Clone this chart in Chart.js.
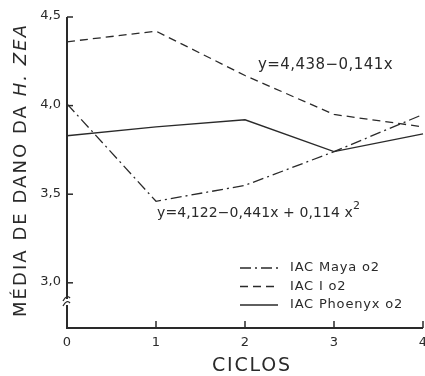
<!DOCTYPE html>
<html>
<head>
<meta charset="utf-8">
<script src="https://cdn.jsdelivr.net/npm/chart.js@4"></script>
<style>
	html, body { margin: 0; padding: 0; background: #fff; }
	#wrap { width: 425px; height: 376px; }
</style>
</head>
<body>
<div id="wrap"><canvas id="chart" width="425" height="376"></canvas></div>
<script>
const ciclos = [0, 1, 2, 3, 4]
const maya = [4.01, 3.46, 3.55, 3.74, 3.95]
const iac1 = [4.36, 4.42, 4.17, 3.95, 3.88]
const phoenyx = [3.83, 3.88, 3.92, 3.74, 3.84]
const yTicks = [3.0, 3.5, 4.0, 4.5]
const xTicks = [0, 1, 2, 3, 4]
const seriesNames = ["IAC Maya o2", "IAC I o2", "IAC Phoenyx o2"]

const ink = "#2a2a2a"
const font = "'DejaVu Sans', sans-serif"

function points(values) {
	return values.map((v, i) => ({x: ciclos[i], y: v}))
}

// spacing needed so that text fills a given width
function spacingFor(ctx, text, width) {
	ctx.letterSpacing = "0px"
	let w = ctx.measureText(text).width
	return Math.max(0, (width - w) / text.length)
}

const drawAxes = {
	id: "drawAxes",
	afterDraw(chart) {
		const ctx = chart.ctx
		const xs = chart.scales.x
		const ys = chart.scales.y
		const {left, right, top, bottom} = chart.chartArea
		ctx.save()
		ctx.strokeStyle = ink
		ctx.fillStyle = ink
		ctx.lineWidth = 2
		ctx.beginPath()
		ctx.moveTo(left, top)
		ctx.lineTo(left, bottom)
		ctx.lineTo(right, bottom)
		ctx.stroke()

		// inward tick marks
		ctx.lineWidth = 1.5
		for (let t of yTicks) {
			let y = ys.getPixelForValue(t)
			ctx.beginPath()
			ctx.moveTo(left, y)
			ctx.lineTo(left + 6, y)
			ctx.stroke()
		}
		for (let t of xTicks.slice(1)) {
			let x = xs.getPixelForValue(t)
			ctx.beginPath()
			ctx.moveTo(x, bottom)
			ctx.lineTo(x, bottom - 7)
			ctx.stroke()
		}

		// axis break
		let by = 302
		ctx.fillStyle = "#fff"
		ctx.fillRect(left - 3, by - 3, 6, 6)
		ctx.lineWidth = 1.3
		ctx.beginPath()
		ctx.moveTo(left - 4, by - 1)
		ctx.quadraticCurveTo(left, by - 8, left + 3, by - 4)
		ctx.moveTo(left - 4, by + 4)
		ctx.quadraticCurveTo(left, by - 3, left + 3, by + 1)
		ctx.stroke()

		// tick labels
		ctx.fillStyle = ink
		ctx.font = "13px " + font
		ctx.textAlign = "right"
		ctx.textBaseline = "middle"
		for (let t of yTicks) {
			ctx.fillText(t.toFixed(1).replace(".", ","), left - 6, ys.getPixelForValue(t) - 1)
		}
		ctx.textAlign = "center"
		ctx.textBaseline = "top"
		for (let t of xTicks) {
			ctx.fillText(String(t), xs.getPixelForValue(t), bottom + 8)
		}

		// axis titles
		ctx.font = "19px " + font
		ctx.textBaseline = "middle"
		ctx.textAlign = "left"
		let s = spacingFor(ctx, "CICLOS", 80)
		ctx.letterSpacing = s + "px"
		ctx.fillText("CICLOS", 212, 366)
		ctx.letterSpacing = "0px"

		ctx.save()
		ctx.translate(21, 170)
		ctx.rotate(-Math.PI / 2)
		const partA = "MÉDIA DE DANO DA "
		const partB = "H. ZEA"
		ctx.font = "18px " + font
		let wA = ctx.measureText(partA).width
		ctx.font = "italic 18px " + font
		let wB = ctx.measureText(partB).width
		let extra = Math.max(0, (294 - wA - wB) / (partA.length + partB.length))
		ctx.letterSpacing = extra + "px"
		ctx.font = "18px " + font
		wA = ctx.measureText(partA).width
		ctx.font = "italic 18px " + font
		wB = ctx.measureText(partB).width
		let sx = -(wA + wB) / 2
		ctx.font = "18px " + font
		ctx.fillText(partA, sx, 0)
		ctx.font = "italic 18px " + font
		ctx.fillText(partB, sx + wA, 0)
		ctx.letterSpacing = "0px"
		ctx.restore()

		// regression equations
		ctx.font = "15px " + font
		ctx.textAlign = "left"
		ctx.textBaseline = "middle"
		let eq1 = "y=4,438\u22120,141x"
		ctx.letterSpacing = spacingFor(ctx, eq1, 135) + "px"
		ctx.fillText(eq1, 258, 65)
		ctx.font = "14px " + font
		let eq2 = "y=4,122\u22120,441x + 0,114 x"
		ctx.letterSpacing = spacingFor(ctx, eq2, 196) + "px"
		ctx.fillText(eq2, 157, 213)
		let w2 = ctx.measureText(eq2).width
		ctx.letterSpacing = "0px"
		ctx.font = "11px " + font
		ctx.fillText("2", 157 + w2, 206)

		// legend
		ctx.font = "13px " + font
		let ls = spacingFor(ctx, seriesNames[2], 113)
		chart.data.datasets.forEach((ds, i) => {
			let y = 268 + i * 18.5
			ctx.strokeStyle = ds.borderColor
			ctx.lineWidth = ds.borderWidth
			ctx.setLineDash(ds.borderDash || [])
			ctx.beginPath()
			ctx.moveTo(240, y)
			ctx.lineTo(278, y)
			ctx.stroke()
			ctx.setLineDash([])
			ctx.letterSpacing = ls + "px"
			ctx.fillText(ds.label, 290, y)
			ctx.letterSpacing = "0px"
		})
		ctx.restore()
	}
}

new Chart(document.getElementById("chart"), {
	type: "line",
	data: {
		datasets: [
			{
				label: seriesNames[0],
				data: points(maya),
				borderColor: ink,
				borderWidth: 1.3,
				borderDash: [11, 4, 2, 4],
				pointRadius: 0,
				tension: 0,
				clip: false
			},
			{
				label: seriesNames[1],
				data: points(iac1),
				borderColor: ink,
				borderWidth: 1.3,
				borderDash: [8, 5],
				pointRadius: 0,
				tension: 0,
				clip: false
			},
			{
				label: seriesNames[2],
				data: points(phoenyx),
				borderColor: ink,
				borderWidth: 1.3,
				pointRadius: 0,
				tension: 0,
				clip: false
			}
		]
	},
	options: {
		responsive: false,
		animation: false,
		layout: {
			padding: {left: 67, right: 2, top: 17, bottom: 48}
		},
		scales: {
			x: {type: "linear", min: 0, max: 4, display: false},
			y: {type: "linear", min: 2.745, max: 4.5, display: false}
		},
		plugins: {
			legend: {display: false},
			tooltip: {enabled: false}
		}
	},
	plugins: [drawAxes]
})
</script>
</body>
</html>
